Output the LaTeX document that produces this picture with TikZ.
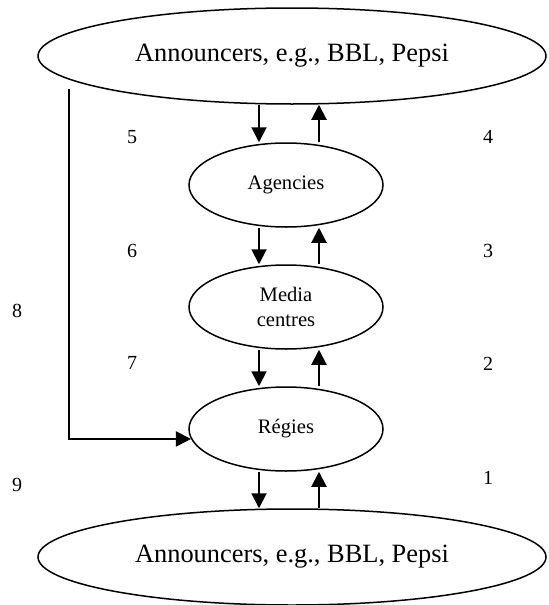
\documentclass[tikz,border=0pt]{standalone}
\usepackage{fontspec}
\setmainfont{Liberation Serif}
\usetikzlibrary{arrows.meta,shapes.geometric}
\newcommand{\actorbox}[3]{
    \node[
        draw,
        ellipse,
        line width=0.75pt,
        inner sep=0pt,
        minimum width=97pt,
        minimum height=42pt,
        align=center,
        font=\fontsize{10.3}{12.5}\selectfont
    ] (#1) at #2 {#3};
}

\begin{document}
\begin{tikzpicture}[x=0.5pt,y=-0.5pt,>={Triangle[length=7.5pt,width=7.5pt]},
    bigactor/.style={draw,ellipse,line width=0.75pt,inner sep=0pt,minimum width=254pt,minimum height=48pt,font=\fontsize{13.2}{15}\selectfont},
    flow/.style={->,line width=1pt},
    numlabel/.style={inner sep=0pt,font=\fontsize{10}{12}\selectfont}]
    \useasboundingbox (0,0) rectangle (548,605);

    \node[bigactor] (annctop) at (292,56) {Announcers, e.g., BBL, Pepsi};
    \node[bigactor] (anncbot) at (292,557) {Announcers, e.g., BBL, Pepsi};
    \actorbox{agencies}{(286,185)}{Agencies}
    \actorbox{mediac}{(286,307)}{Media\\centres}
    \actorbox{regies}{(286,429)}{Régies}

    \coordinate (dncol) at (259,0);
    \coordinate (upcol) at (319,0);
    \coordinate (direct) at (69,89);

    % money flowing down, services flowing up
    \draw[flow] (dncol |- annctop.south) -- (dncol |- agencies.north);
    \draw[flow] (upcol |- agencies.north) -- (upcol |- annctop.south);
    \draw[flow] (dncol |- agencies.south) -- (dncol |- mediac.north);
    \draw[flow] (upcol |- mediac.north) -- (upcol |- agencies.south);
    \draw[flow] (dncol |- mediac.south) -- (dncol |- regies.north);
    \draw[flow] (upcol |- regies.north) -- (upcol |- mediac.south);
    \draw[flow] (dncol |- regies.south) -- (dncol |- anncbot.north);
    \draw[flow] (upcol |- anncbot.north) -- (upcol |- regies.south);
    \draw[flow] (direct) |- (regies.186);

    \foreach \num/\x/\y in {1/488/478,2/488/364,3/488/251,4/488/137,5/132/137,6/132/251,7/132/363,8/17/311,9/17/485}
        \node[numlabel] (n\num) at (\x,\y) {\num};
\end{tikzpicture}
\end{document}
